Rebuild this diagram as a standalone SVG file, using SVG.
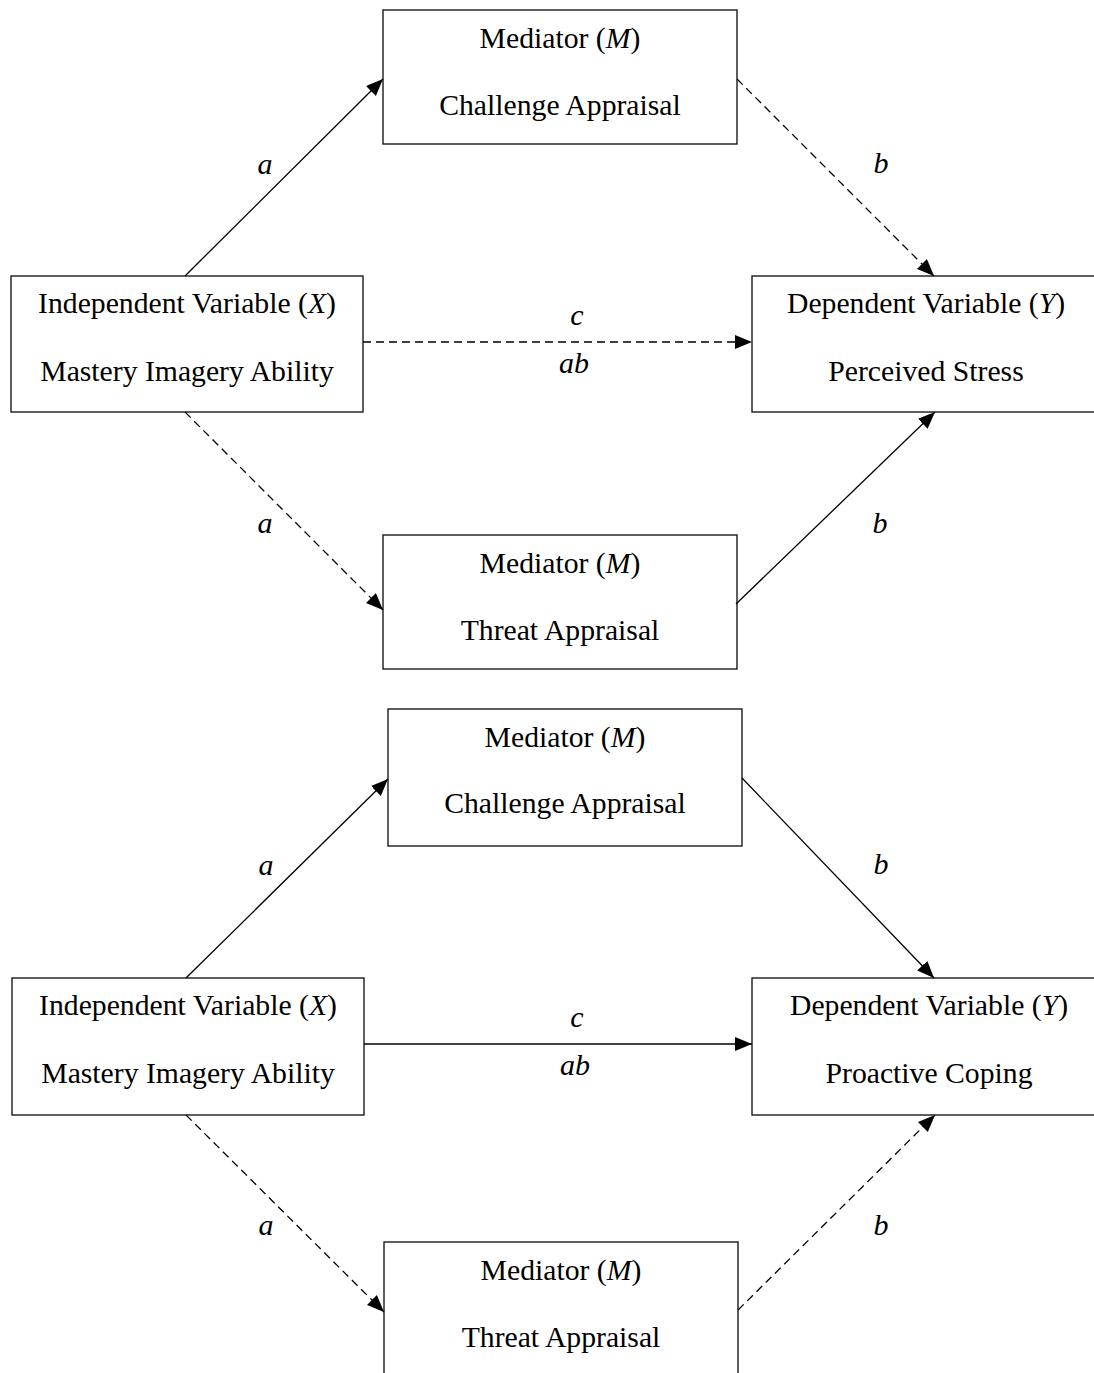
<svg xmlns="http://www.w3.org/2000/svg" width="1094" height="1373" viewBox="0 0 1094 1373">
  <style>
    .box { fill: #ffffff; stroke: #1a1a1a; stroke-width: 1.4; }
    .t { font-family: "Liberation Serif", "Times New Roman", serif; font-size: 29.7px; fill: #000; text-anchor: middle; }
    .lbl { font-family: "Liberation Serif", "Times New Roman", serif; font-size: 30px; font-style: italic; fill: #000; text-anchor: middle; }
    .it { font-style: italic; }
    .edge { fill: none; stroke: #000; stroke-width: 1.3; marker-end: url(#arrow); }
    .dash { stroke-dasharray: 8 5; }
  </style>
  <defs>
    <marker id="arrow" markerUnits="userSpaceOnUse" markerWidth="18" markerHeight="15" refX="17" refY="7" orient="auto">
      <path d="M0,0 L17,7 L0,14 z" fill="#000"/>
    </marker>
  </defs>
  <rect width="1094" height="1373" fill="#ffffff"/>

  <!-- Model 1: perceived stress -->
  <g id="m1-challenge">
    <rect class="box" x="383" y="10" width="354" height="134"/>
    <text class="t" x="560" y="48">Mediator (<tspan class="it">M</tspan>)</text>
    <text class="t" x="560" y="115">Challenge Appraisal</text>
  </g>
  <g id="m1-iv">
    <rect class="box" x="11" y="276" width="352" height="136"/>
    <text class="t" x="187" y="313">Independent Variable (<tspan class="it">X</tspan>)</text>
    <text class="t" x="187" y="381">Mastery Imagery Ability</text>
  </g>
  <g id="m1-dv">
    <rect class="box" x="752" y="276" width="352" height="136"/>
    <text class="t" x="926" y="313">Dependent Variable (<tspan class="it">Y</tspan>)</text>
    <text class="t" x="926" y="381">Perceived Stress</text>
  </g>
  <g id="m1-threat">
    <rect class="box" x="383" y="535" width="354" height="134"/>
    <text class="t" x="560" y="573">Mediator (<tspan class="it">M</tspan>)</text>
    <text class="t" x="560" y="640">Threat Appraisal</text>
  </g>

  <!-- Model 2: proactive coping -->
  <g id="m2-challenge">
    <rect class="box" x="388" y="709" width="354" height="137"/>
    <text class="t" x="565" y="747">Mediator (<tspan class="it">M</tspan>)</text>
    <text class="t" x="565" y="813">Challenge Appraisal</text>
  </g>
  <g id="m2-iv">
    <rect class="box" x="12" y="978" width="352" height="137"/>
    <text class="t" x="188" y="1015">Independent Variable (<tspan class="it">X</tspan>)</text>
    <text class="t" x="188" y="1083">Mastery Imagery Ability</text>
  </g>
  <g id="m2-dv">
    <rect class="box" x="752" y="978" width="354" height="137"/>
    <text class="t" x="929" y="1015">Dependent Variable (<tspan class="it">Y</tspan>)</text>
    <text class="t" x="929" y="1083">Proactive Coping</text>
  </g>
  <g id="m2-threat">
    <rect class="box" x="384" y="1242" width="354" height="140"/>
    <text class="t" x="561" y="1280">Mediator (<tspan class="it">M</tspan>)</text>
    <text class="t" x="561" y="1347">Threat Appraisal</text>
  </g>

  <!-- Paths and coefficient labels -->
  <g id="connectors">
    <line class="edge" x1="185" y1="276" x2="383" y2="79"/>
    <line class="edge dash" x1="737" y1="79" x2="934" y2="276"/>
    <line class="edge dash" x1="363" y1="342" x2="752" y2="342"/>
    <line class="edge dash" x1="185" y1="412" x2="383" y2="610"/>
    <line class="edge" x1="736" y1="604" x2="935" y2="412"/>

    <line class="edge" x1="186" y1="978" x2="388" y2="779"/>
    <line class="edge" x1="742" y1="778" x2="934" y2="978"/>
    <line class="edge" x1="364" y1="1044" x2="752" y2="1044"/>
    <line class="edge dash" x1="186" y1="1115" x2="384" y2="1312"/>
    <line class="edge dash" x1="738" y1="1310" x2="935" y2="1115"/>

    <text class="lbl" x="265" y="174">a</text>
    <text class="lbl" x="881" y="173">b</text>
    <text class="lbl" x="577" y="325">c</text>
    <text class="lbl" x="574" y="373">ab</text>
    <text class="lbl" x="265" y="533">a</text>
    <text class="lbl" x="880" y="533">b</text>

    <text class="lbl" x="266" y="875">a</text>
    <text class="lbl" x="881" y="874">b</text>
    <text class="lbl" x="577" y="1027">c</text>
    <text class="lbl" x="575" y="1075">ab</text>
    <text class="lbl" x="266" y="1235">a</text>
    <text class="lbl" x="881" y="1235">b</text>
  </g>
</svg>
